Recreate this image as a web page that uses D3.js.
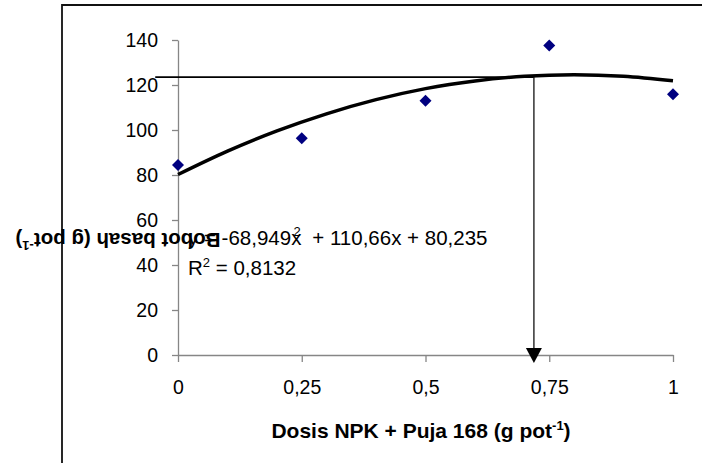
<!DOCTYPE html>
<html>
<head>
<meta charset="utf-8">
<script src="https://cdn.jsdelivr.net/npm/d3@7.9.0/dist/d3.min.js"></script>
<style>
  html, body { margin: 0; padding: 0; background: #fff; }
  svg { display: block; font-family: "Liberation Sans", Arial, sans-serif; }
  .axis path, .axis line { stroke: #868686; stroke-width: 1.3; }
  .axis text { font-size: 19.5px; fill: #000; }
</style>
</head>
<body>
<svg id="chart" width="702" height="463"></svg>
<script>
// observed points
const doses = [0, 0.25, 0.5, 0.75, 1];
const weights = [84.4, 96.3, 113.0, 137.6, 115.9];

// trend line
const trendDoses = [0, 0.1, 0.2, 0.3, 0.4, 0.5, 0.6, 0.7, 0.8, 0.9, 1];
const trendWeights = [80.2, 90.6, 99.6, 107.2, 113.5, 118.4, 121.8, 123.9, 124.6, 123.9, 121.9];

// optimum guide lines
const optimumDose = 0.719;
const optimumWeight = 123.5;
const guideStartDose = -0.046;

const xTicks = [0, 0.25, 0.5, 0.75, 1];
const xTickLabels = ['0', '0,25', '0,5', '0,75', '1'];
const yTicks = [0, 20, 40, 60, 80, 100, 120, 140];

const svg = d3.select('#chart');

const x = d3.scaleLinear().domain([0, 1]).range([178, 673]);
const y = d3.scaleLinear().domain([0, 140]).range([355, 40]);

// outer frame (left + top only visible)
svg.append('path')
  .attr('d', 'M62,463 L62,5 L702,5')
  .attr('fill', 'none')
  .attr('stroke', '#111')
  .attr('stroke-width', 1.8);

// axes
svg.append('g')
  .attr('class', 'axis')
  .attr('transform', `translate(${x(0)},0)`)
  .call(d3.axisLeft(y).tickValues(yTicks).tickSize(6).tickPadding(14).tickSizeOuter(0));

svg.append('g')
  .attr('class', 'axis')
  .attr('transform', `translate(0,${y(0)})`)
  .call(d3.axisBottom(x).tickValues(xTicks)
    .tickFormat((d, i) => xTickLabels[i])
    .tickSize(7).tickPadding(18).tickSizeOuter(0));

// guide lines
svg.append('line')
  .attr('x1', x(guideStartDose)).attr('x2', x(optimumDose))
  .attr('y1', y(optimumWeight)).attr('y2', y(optimumWeight))
  .attr('stroke', '#000').attr('stroke-width', 1.6);

const ax = x(optimumDose), tipY = y(0) + 8;
svg.append('line')
  .attr('x1', ax).attr('x2', ax)
  .attr('y1', y(optimumWeight) - 2).attr('y2', tipY - 12)
  .attr('stroke', '#222').attr('stroke-width', 1.4);
svg.append('path')
  .attr('d', `M${ax - 8},${tipY - 15} L${ax + 8},${tipY - 15} L${ax},${tipY} Z`)
  .attr('fill', '#000');

// trend curve
const line = d3.line()
  .x((d, i) => x(trendDoses[i]))
  .y(d => y(d))
  .curve(d3.curveMonotoneX);
svg.append('path')
  .datum(trendWeights)
  .attr('d', line)
  .attr('fill', 'none')
  .attr('stroke', '#000')
  .attr('stroke-width', 3.5);

// markers
svg.selectAll('.pt')
  .data(weights)
  .join('path')
    .attr('class', 'pt')
    .attr('d', d3.symbol(d3.symbolSquare, 72))
    .attr('transform', (d, i) => `translate(${x(doses[i])},${y(d)}) rotate(45)`)
    .attr('fill', '#000080');

// equation + R2
const eq = svg.append('text')
  .attr('x', 188).attr('y', 245)
  .attr('font-size', 20.5);
eq.append('tspan').text('y = -68,949x');
eq.append('tspan').attr('dx', -8).attr('dy', -9).attr('font-size', 13).text('2');
eq.append('tspan').attr('dx', 6).attr('dy', 9).text(' + 110,66x + 80,235');

const r2 = svg.append('text')
  .attr('x', 188).attr('y', 275)
  .attr('font-size', 20.5);
r2.append('tspan').text('R');
r2.append('tspan').attr('dy', -8).attr('font-size', 13).text('2');
r2.append('tspan').attr('dy', 8).text(' = 0,8132');

// y title (drawn upside down as in the source)
const yt = svg.append('text')
  .attr('transform', 'translate(118,233) rotate(180)')
  .attr('text-anchor', 'middle')
  .attr('font-size', 20.5)
  .attr('font-weight', 'bold');
yt.append('tspan').text('Bobot basah (g pot');
yt.append('tspan').attr('dy', -8).attr('font-size', 13).text('-1');
yt.append('tspan').attr('dy', 8).text(')');

// x title
const xt = svg.append('text')
  .attr('x', 421).attr('y', 438)
  .attr('text-anchor', 'middle')
  .attr('font-size', 21)
  .attr('font-weight', 'bold');
xt.append('tspan').text('Dosis NPK + Puja 168 (g pot');
xt.append('tspan').attr('dy', -8).attr('font-size', 13).text('-1');
xt.append('tspan').attr('dy', 8).text(')');
</script>
</body>
</html>
